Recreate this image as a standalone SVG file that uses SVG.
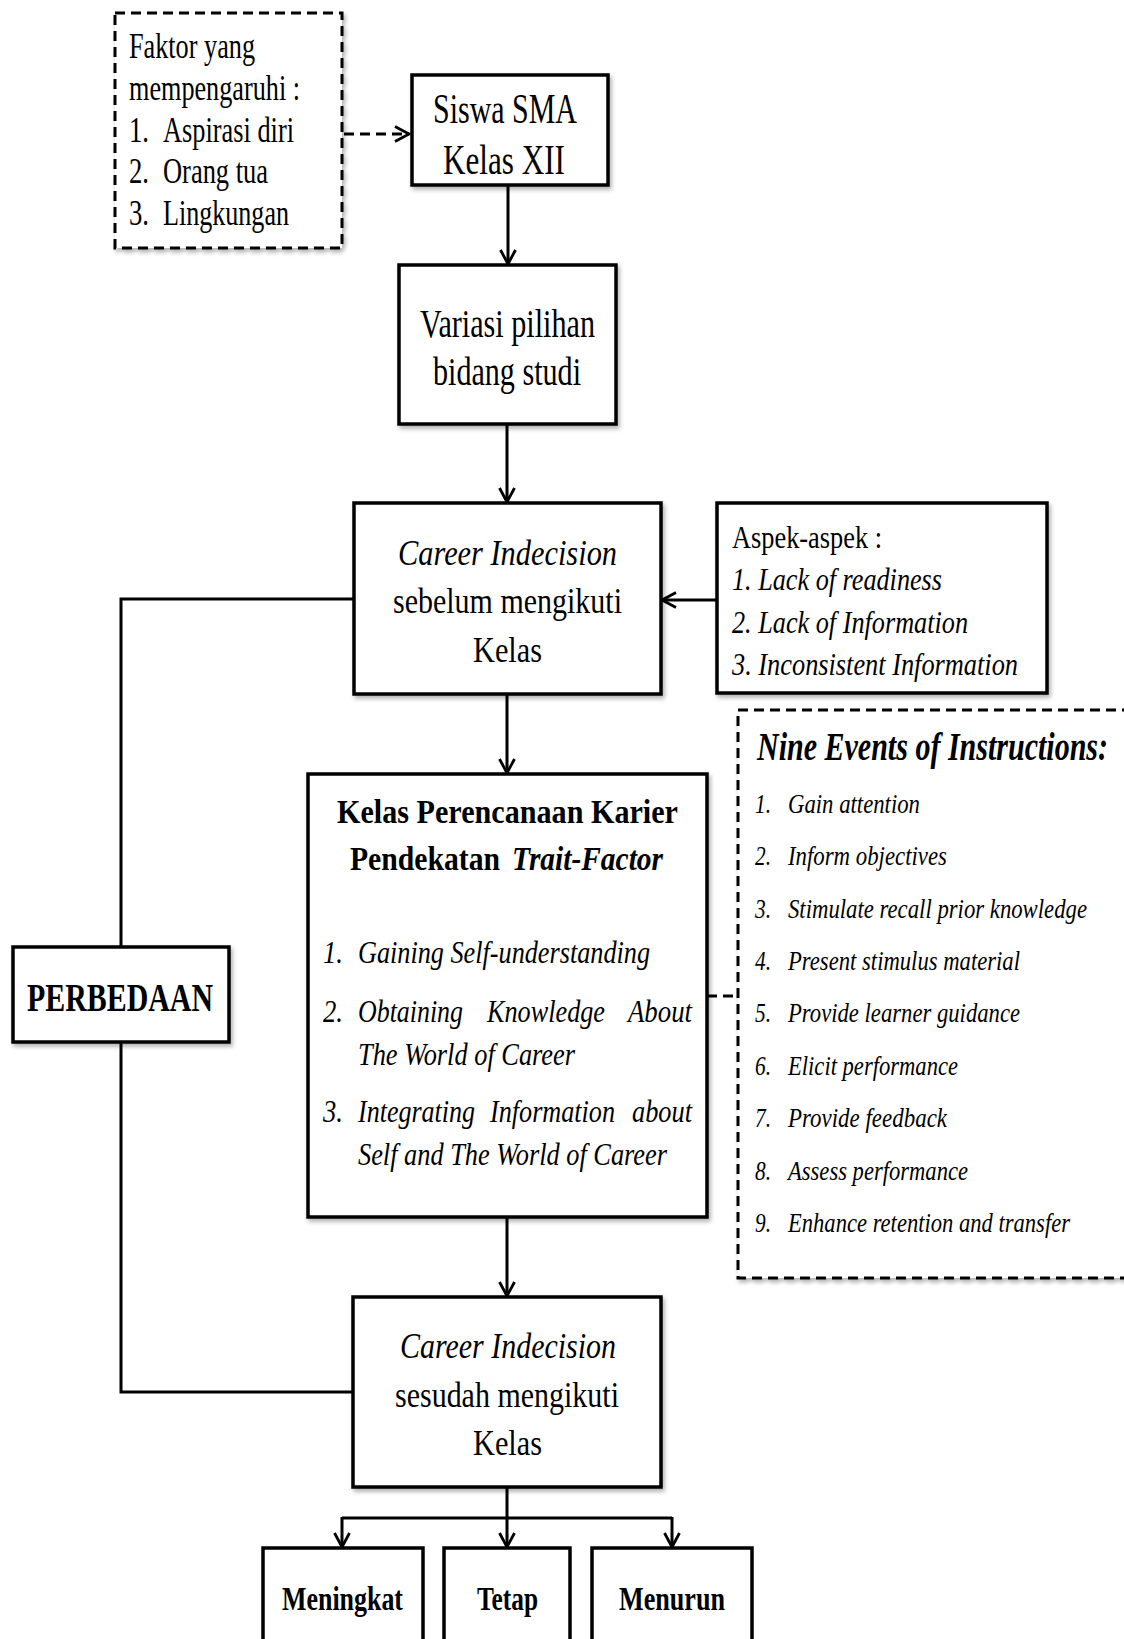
<svg xmlns="http://www.w3.org/2000/svg" width="1124" height="1639" viewBox="0 0 1124 1639">
<style>
.box{fill:#fff;stroke:#000;stroke-width:3.5}
.dbox{fill:#fff;stroke:#000;stroke-width:3;stroke-dasharray:10 6}
.conn{fill:none;stroke:#000;stroke-width:3}
.dconn{fill:none;stroke:#000;stroke-width:3;stroke-dasharray:10 6}
text{font-family:"Liberation Serif","Times New Roman",serif;fill:#000}
.it{font-style:italic}
.b{font-weight:bold}
</style>
<defs>
<filter id="sh" x="-10%" y="-10%" width="130%" height="130%">
<feDropShadow dx="2" dy="3" stdDeviation="2" flood-color="#000" flood-opacity="0.3"/>
</filter>
<marker id="arr" markerUnits="userSpaceOnUse" markerWidth="18" markerHeight="18" refX="15" refY="8" orient="auto" overflow="visible">
<path d="M1,0.5 L15,8 L1,15.5" fill="none" stroke="#000" stroke-width="2.8"/>
</marker>
</defs>

<g id="connectors">
<line class="dconn" x1="344" y1="134" x2="409" y2="134" marker-end="url(#arr)"/>
<line class="conn" x1="508" y1="185" x2="508" y2="264" marker-end="url(#arr)"/>
<line class="conn" x1="507" y1="424" x2="507" y2="502" marker-end="url(#arr)"/>
<line class="conn" x1="717" y1="600" x2="662" y2="600" marker-end="url(#arr)"/>
<line class="conn" x1="507" y1="694" x2="507" y2="773" marker-end="url(#arr)"/>
<line class="conn" x1="507" y1="1217" x2="507" y2="1296" marker-end="url(#arr)"/>
<polyline class="conn" points="354,599 121,599 121,947"/>
<polyline class="conn" points="121,1042 121,1392 353,1392"/>
<line class="dconn" x1="707" y1="996" x2="738" y2="996"/>
<line class="conn" x1="507" y1="1487" x2="507" y2="1518"/>
<line class="conn" x1="342" y1="1518" x2="672" y2="1518"/>
<line class="conn" x1="342" y1="1517" x2="342" y2="1547" marker-end="url(#arr)"/>
<line class="conn" x1="507" y1="1518" x2="507" y2="1547" marker-end="url(#arr)"/>
<line class="conn" x1="672" y1="1517" x2="672" y2="1547" marker-end="url(#arr)"/>
</g>

<g id="faktor">
<rect class="dbox" x="115" y="13" width="227" height="235" filter="url(#sh)"/>
<g font-size="36">
<text x="129" y="58" textLength="126" lengthAdjust="spacingAndGlyphs">Faktor yang</text>
<text x="129" y="100" textLength="171" lengthAdjust="spacingAndGlyphs">mempengaruhi :</text>
<text x="129" y="142" textLength="20" lengthAdjust="spacingAndGlyphs">1.</text>
<text x="163" y="142" textLength="131" lengthAdjust="spacingAndGlyphs">Aspirasi diri</text>
<text x="129" y="183" textLength="20" lengthAdjust="spacingAndGlyphs">2.</text>
<text x="163" y="183" textLength="105" lengthAdjust="spacingAndGlyphs">Orang tua</text>
<text x="129" y="225" textLength="20" lengthAdjust="spacingAndGlyphs">3.</text>
<text x="163" y="225" textLength="126" lengthAdjust="spacingAndGlyphs">Lingkungan</text>
</g>
</g>

<g id="siswa">
<rect class="box" x="412" y="75" width="196" height="110" filter="url(#sh)"/>
<text font-size="42" x="433" y="123" textLength="144" lengthAdjust="spacingAndGlyphs">Siswa SMA</text>
<text font-size="42" x="443" y="174" textLength="122" lengthAdjust="spacingAndGlyphs">Kelas XII</text>
</g>

<g id="variasi">
<rect class="box" x="399" y="265" width="217" height="159" filter="url(#sh)"/>
<text font-size="40" x="420" y="337" textLength="175" lengthAdjust="spacingAndGlyphs">Variasi pilihan</text>
<text font-size="40" x="433" y="385" textLength="148" lengthAdjust="spacingAndGlyphs">bidang studi</text>
</g>

<g id="career-sebelum">
<rect class="box" x="354" y="503" width="307" height="191" filter="url(#sh)"/>
<text class="it" font-size="35" x="398" y="565" textLength="219" lengthAdjust="spacingAndGlyphs">Career Indecision</text>
<text font-size="35" x="393" y="613" textLength="229" lengthAdjust="spacingAndGlyphs">sebelum mengikuti</text>
<text font-size="35" x="473" y="662" textLength="69" lengthAdjust="spacingAndGlyphs">Kelas</text>
</g>

<g id="aspek">
<rect class="box" x="717" y="503" width="330" height="190" filter="url(#sh)"/>
<text font-size="32" x="732" y="548" textLength="150" lengthAdjust="spacingAndGlyphs">Aspek-aspek :</text>
<text class="it" font-size="32" x="732" y="590" textLength="210" lengthAdjust="spacingAndGlyphs">1. Lack of readiness</text>
<text class="it" font-size="32" x="732" y="633" textLength="236" lengthAdjust="spacingAndGlyphs">2. Lack of Information</text>
<text class="it" font-size="32" x="732" y="675" textLength="286" lengthAdjust="spacingAndGlyphs">3. Inconsistent Information</text>
</g>

<g id="perbedaan">
<rect class="box" x="13" y="947" width="216" height="95" filter="url(#sh)"/>
<text class="b" font-size="40" x="27" y="1011" textLength="186" lengthAdjust="spacingAndGlyphs">PERBEDAAN</text>
</g>

<g id="kelas-perencanaan">
<rect class="box" x="308" y="774" width="399" height="443" filter="url(#sh)"/>
<text class="b" font-size="33" x="337" y="823" textLength="341" lengthAdjust="spacingAndGlyphs">Kelas Perencanaan Karier</text>
<text class="b" font-size="33" x="350" y="870" textLength="150" lengthAdjust="spacingAndGlyphs">Pendekatan</text>
<text class="b it" font-size="33" x="512" y="870" textLength="151" lengthAdjust="spacingAndGlyphs">Trait-Factor</text>
<g class="it" font-size="32">
<text x="323" y="963" textLength="20" lengthAdjust="spacingAndGlyphs">1.</text>
<text x="358" y="963" textLength="292" lengthAdjust="spacingAndGlyphs">Gaining Self-understanding</text>
<text x="323" y="1022" textLength="20" lengthAdjust="spacingAndGlyphs">2.</text>
<text x="358" y="1022" textLength="105" lengthAdjust="spacingAndGlyphs">Obtaining</text>
<text x="487" y="1022" textLength="118" lengthAdjust="spacingAndGlyphs">Knowledge</text>
<text x="628" y="1022" textLength="64" lengthAdjust="spacingAndGlyphs">About</text>
<text x="358" y="1065" textLength="217" lengthAdjust="spacingAndGlyphs">The World of Career</text>
<text x="323" y="1122" textLength="20" lengthAdjust="spacingAndGlyphs">3.</text>
<text x="358" y="1122" textLength="117" lengthAdjust="spacingAndGlyphs">Integrating</text>
<text x="490" y="1122" textLength="125" lengthAdjust="spacingAndGlyphs">Information</text>
<text x="632" y="1122" textLength="60" lengthAdjust="spacingAndGlyphs">about</text>
<text x="358" y="1165" textLength="309" lengthAdjust="spacingAndGlyphs">Self and The World of Career</text>
</g>
</g>

<g id="nine-events">
<rect class="dbox" x="738" y="710" width="400" height="568" filter="url(#sh)"/>
<text class="b it" font-size="40" x="757" y="760" textLength="351" lengthAdjust="spacingAndGlyphs">Nine Events of Instructions:</text>
<g class="it" font-size="27">
<text x="755" y="813" textLength="16" lengthAdjust="spacingAndGlyphs">1.</text><text x="788" y="813" textLength="132" lengthAdjust="spacingAndGlyphs">Gain attention</text>
<text x="755" y="865" textLength="16" lengthAdjust="spacingAndGlyphs">2.</text><text x="788" y="865" textLength="159" lengthAdjust="spacingAndGlyphs">Inform objectives</text>
<text x="755" y="918" textLength="16" lengthAdjust="spacingAndGlyphs">3.</text><text x="788" y="918" textLength="299" lengthAdjust="spacingAndGlyphs">Stimulate recall prior knowledge</text>
<text x="755" y="970" textLength="16" lengthAdjust="spacingAndGlyphs">4.</text><text x="788" y="970" textLength="232" lengthAdjust="spacingAndGlyphs">Present stimulus material</text>
<text x="755" y="1022" textLength="16" lengthAdjust="spacingAndGlyphs">5.</text><text x="788" y="1022" textLength="232" lengthAdjust="spacingAndGlyphs">Provide learner guidance</text>
<text x="755" y="1075" textLength="16" lengthAdjust="spacingAndGlyphs">6.</text><text x="788" y="1075" textLength="170" lengthAdjust="spacingAndGlyphs">Elicit performance</text>
<text x="755" y="1127" textLength="16" lengthAdjust="spacingAndGlyphs">7.</text><text x="788" y="1127" textLength="159" lengthAdjust="spacingAndGlyphs">Provide feedback</text>
<text x="755" y="1180" textLength="16" lengthAdjust="spacingAndGlyphs">8.</text><text x="788" y="1180" textLength="180" lengthAdjust="spacingAndGlyphs">Assess performance</text>
<text x="755" y="1232" textLength="16" lengthAdjust="spacingAndGlyphs">9.</text><text x="788" y="1232" textLength="282" lengthAdjust="spacingAndGlyphs">Enhance retention and transfer</text>
</g>
</g>

<g id="career-sesudah">
<rect class="box" x="353" y="1297" width="308" height="190" filter="url(#sh)"/>
<text class="it" font-size="35" x="400" y="1358" textLength="216" lengthAdjust="spacingAndGlyphs">Career Indecision</text>
<text font-size="35" x="395" y="1407" textLength="224" lengthAdjust="spacingAndGlyphs">sesudah mengikuti</text>
<text font-size="35" x="473" y="1455" textLength="69" lengthAdjust="spacingAndGlyphs">Kelas</text>
</g>

<g id="meningkat">
<rect class="box" x="263" y="1548" width="160" height="130"/>
<text class="b" font-size="33" x="282" y="1610" textLength="121" lengthAdjust="spacingAndGlyphs">Meningkat</text>
</g>
<g id="tetap">
<rect class="box" x="444" y="1548" width="126" height="130"/>
<text class="b" font-size="33" x="477" y="1610" textLength="61" lengthAdjust="spacingAndGlyphs">Tetap</text>
</g>
<g id="menurun">
<rect class="box" x="592" y="1548" width="160" height="130"/>
<text class="b" font-size="33" x="619" y="1610" textLength="106" lengthAdjust="spacingAndGlyphs">Menurun</text>
</g>
</svg>
